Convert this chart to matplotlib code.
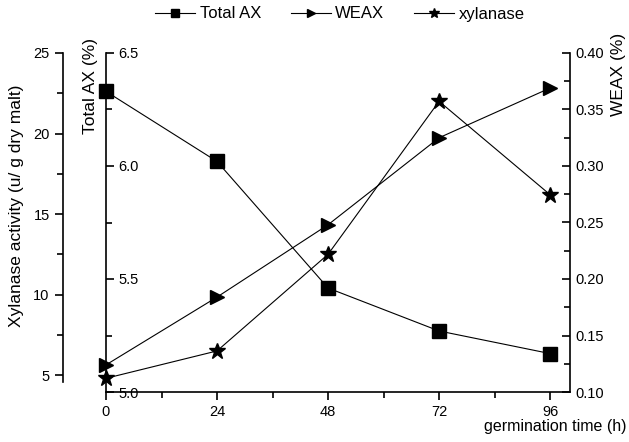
import matplotlib
matplotlib.use('Agg')
from matplotlib import pyplot as plt
from matplotlib.ticker import MultipleLocator

plt.rcParams['font.family'] = ['Liberation Sans', 'DejaVu Sans']

# germination time (h)
hours = [0, 24, 48, 72, 96]
total_ax = [6.33, 6.02, 5.46, 5.27, 5.17]      # Total AX (%)
weax = [0.124, 0.184, 0.248, 0.325, 0.369]      # WEAX (%)
xylanase = [4.8, 6.5, 12.5, 22.0, 16.2]         # u/ g dry malt

fig = plt.figure(figsize=(6.29, 4.42), dpi=100)
ax = fig.add_axes([106 / 629, 50 / 442, (570 - 106) / 629, (392 - 53) / 442])

# host axis: x axis + xylanase scale (offset to the left, 43 px = 31 pt)
ax.set_xlim(0, 100.3)
ax.set_ylim(3.95, 25)
ax.spines['top'].set_visible(False)
ax.spines['right'].set_visible(False)
ax.spines['left'].set_position(('outward', 31))
ax.spines['left'].set_bounds(4.6, 25)
ax.set_xticks(hours)
ax.xaxis.set_minor_locator(MultipleLocator(12))
ax.yaxis.set_major_locator(MultipleLocator(5))
ax.yaxis.set_minor_locator(MultipleLocator(2.5))
ax.tick_params(which='major', length=6, width=1.2, labelsize=10.5)
ax.tick_params(which='minor', length=4, width=1.2)
ax.set_yticks([5, 10, 15, 20, 25])
for s in ax.spines.values():
    s.set_linewidth(1.2)
ax.set_ylabel('Xylanase activity (u/ g dry malt)', fontsize=12.5)
ax.yaxis.set_label_coords(-0.176, 0.55)
ax.patch.set_visible(False)

# Total AX axis sits on x = 0, ticks and labels to the right
ax_tot = ax.twinx()
ax_tot.spines['right'].set_position(('axes', 0))
for side in ['top', 'bottom', 'left']:
    ax_tot.spines[side].set_visible(False)
ax_tot.spines['right'].set_linewidth(1.2)
ax_tot.set_ylim(5.0, 6.5)
ax_tot.set_yticks([5.0, 5.5, 6.0, 6.5])
ax_tot.set_yticklabels(['5.0', '5.5', '6.0', '6.5'])
ax_tot.yaxis.set_minor_locator(MultipleLocator(0.25))
ax_tot.tick_params(which='major', direction='out', length=6, width=1.2, labelsize=10.5, pad=3)
ax_tot.tick_params(which='minor', direction='out', length=4, width=1.2)
fig.text(90 / 629, 1 - 86 / 442, 'Total AX (%)', rotation=90, fontsize=12.5,
         ha='center', va='center')

# WEAX axis on the right, ticks pointing in
ax_we = ax.twinx()
for side in ['top', 'bottom', 'left']:
    ax_we.spines[side].set_visible(False)
ax_we.spines['right'].set_linewidth(1.2)
ax_we.set_ylim(0.10, 0.40)
ax_we.set_yticks([0.10, 0.15, 0.20, 0.25, 0.30, 0.35, 0.40])
ax_we.set_yticklabels(['0.10', '0.15', '0.20', '0.25', '0.30', '0.35', '0.40'])
ax_we.yaxis.set_minor_locator(MultipleLocator(0.025))
ax_we.tick_params(which='major', direction='in', length=6, width=1.2, labelsize=10.5, pad=4)
ax_we.tick_params(which='minor', direction='in', length=4, width=1.2)
fig.text(618 / 629, 1 - 74 / 442, 'WEAX (%)', rotation=90, fontsize=12.5,
         ha='center', va='center')

l1, = ax_tot.plot(hours, total_ax, '-', color='black', lw=0.8, marker='s',
                  ms=9.5, clip_on=False, label='Total AX')
l2, = ax_we.plot(hours, weax, '-', color='black', lw=0.8, marker='>',
                 ms=10, clip_on=False, label='WEAX')
l3, = ax.plot(hours, xylanase, '-', color='black', lw=0.8, marker='*',
              ms=12, clip_on=False, label='xylanase')

fig.text(626 / 629, 1 - 427 / 442, 'germination time (h)', fontsize=11.5,
         ha='right', va='center')

fig.legend([l1, l2, l3], ['Total AX', 'WEAX', 'xylanase'], loc='center',
           bbox_to_anchor=(340 / 629, 1 - 14 / 442), ncol=3, frameon=False,
           fontsize=12, markerscale=0.6, handlelength=2.4, columnspacing=1.8,
           handletextpad=0.25)

fig.savefig('out.png', dpi=100)
